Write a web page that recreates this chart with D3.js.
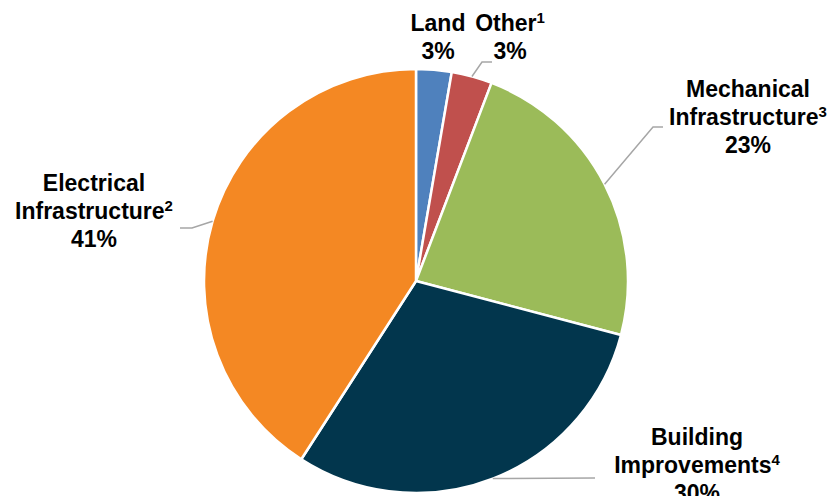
<!DOCTYPE html>
<html>
<head>
<meta charset="utf-8">
<script src="https://cdn.jsdelivr.net/npm/d3@7"></script>
<style>
  body { margin: 0; background: #fff; }
  svg { display: block; }
  .label { font-family: "Liberation Sans", Arial, sans-serif; font-weight: bold; font-size: 23px; fill: #000; }
  .leader { fill: none; stroke: #a6a6a6; stroke-width: 1.5; }
</style>
</head>
<body>
<div id="chart"></div>
<script>
// data (share of total, %)
var categories = ["Land", "Other", "Mechanical Infrastructure", "Building Improvements", "Electrical Infrastructure"];
var values = [2.7, 3.1, 23.3, 30.0, 40.9];
var pctLabels = ["3%", "3%", "23%", "30%", "41%"];
var footnotes = ["", "1", "3", "4", "2"];
var colors = ["#4f81bd", "#c0504d", "#9bbb59", "#02364d", "#f48823"];

// label layout: text lines, center x, first baseline y, leader elbow
var labelLines = [["Land"], ["Other"], ["Mechanical", "Infrastructure"], ["Building", "Improvements"], ["Electrical", "Infrastructure"]];
var labelPos = [[438, 31], [510, 31], [748, 97], [697, 445], [94, 191]];
var leaderElbow = [null, [[482, 62], [492, 62]], [[653, 127], [663, 127]], [[595, 478]], [[192, 228], [180, 228]]];

var width = 834, height = 496;
var cx = 416, cy = 281, radius = 212;
var lineH = 28;

var svg = d3.select("#chart").append("svg")
  .attr("width", width)
  .attr("height", height);

var data = categories.map(function(c, i) {
  return {name: c, value: values[i], pct: pctLabels[i], note: footnotes[i], color: colors[i], i: i};
});

var pie = d3.pie()
  .sort(null)
  .value(function(d) { return d.value; });

var arc = d3.arc()
  .innerRadius(0)
  .outerRadius(radius);

var g = svg.append("g")
  .attr("transform", "translate(" + cx + "," + cy + ")");

var arcs = pie(data);

g.selectAll(".slice")
    .data(arcs)
  .enter().append("path")
    .attr("class", "slice")
    .attr("d", arc)
    .attr("fill", function(d) { return d.data.color; })
    .attr("stroke", "#fff")
    .attr("stroke-width", 2.5)
    .attr("stroke-linejoin", "round");

// leader lines start on the rim at the middle of the slice
arcs.forEach(function(a) {
  var elbow = leaderElbow[a.data.i];
  if (!elbow) return;
  var mid = (a.startAngle + a.endAngle) / 2;
  var pts = [[cx + radius * Math.sin(mid), cy - radius * Math.cos(mid)]].concat(elbow);
  svg.append("path")
    .attr("class", "leader")
    .attr("d", d3.line()(pts));
});

// labels
arcs.forEach(function(a) {
  var d = a.data;
  var pos = labelPos[d.i];
  var lines = labelLines[d.i];
  var t = svg.append("text")
    .attr("class", "label")
    .attr("text-anchor", "middle");
  lines.forEach(function(s, k) {
    t.append("tspan")
      .attr("x", pos[0])
      .attr("y", pos[1] + k * lineH)
      .text(s);
    if (k == lines.length - 1 && d.note) {
      t.append("tspan")
        .attr("font-size", 15)
        .attr("dy", -8)
        .text(d.note);
    }
  });
  t.append("tspan")
    .attr("x", pos[0])
    .attr("y", pos[1] + lines.length * lineH)
    .text(d.pct);
});
</script>
</body>
</html>
